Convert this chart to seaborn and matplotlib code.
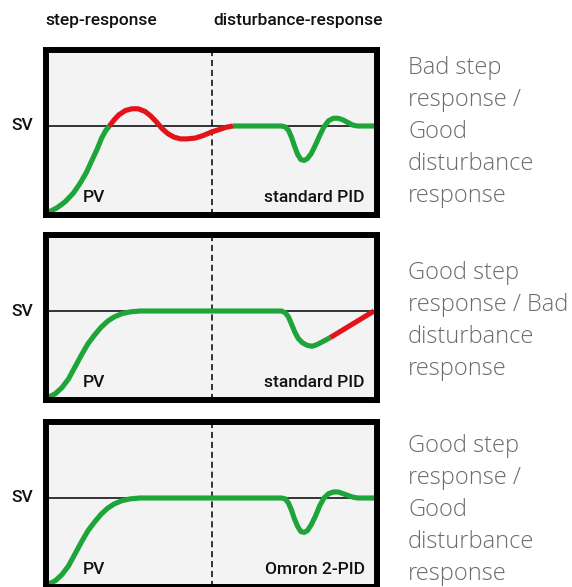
import pandas as pd
import matplotlib
matplotlib.use('Agg')
import matplotlib.pyplot as plt
import seaborn as sns
from matplotlib import font_manager

sns.set_style('white')

# Labels
top_labels = ['step-response', 'disturbance-response']
tuning_names = ['standard PID', 'standard PID', 'Omron 2-PID']
verdicts = [
    ['Bad step', 'response /', 'Good', 'disturbance', 'response'],
    ['Good step', 'response / Bad', 'disturbance', 'response'],
    ['Good step', 'response /', 'Good', 'disturbance', 'response'],
]

# PV traces: x runs 0..10 (disturbance half starts at 5), SV = 1
p1_rise_x = [0.00, 0.25, 0.50, 0.75, 0.95, 1.15, 1.32, 1.48, 1.62, 1.75, 1.86]
p1_rise_y = [0.00, 0.05, 0.12, 0.22, 0.33, 0.46, 0.60, 0.73, 0.86, 0.95, 1.00]
p1_over_x = [1.86, 2.00, 2.15, 2.35, 2.55, 2.75, 2.95, 3.12, 3.30, 3.48, 3.66, 3.85,
             4.05, 4.25, 4.50, 4.75, 5.00, 5.25, 5.45, 5.66]
p1_over_y = [1.00, 1.07, 1.13, 1.18, 1.20, 1.20, 1.17, 1.12, 1.05, 0.97, 0.91, 0.87,
             0.85, 0.85, 0.86, 0.89, 0.93, 0.96, 0.985, 1.00]
p1_dist_x = [5.66, 7.15, 7.27, 7.37, 7.46, 7.55, 7.65, 7.75, 7.85, 7.95, 8.07, 8.20,
             8.33, 8.46, 8.60, 8.75, 8.90, 9.05, 9.20, 9.35, 9.50, 10.00]
p1_dist_y = [1.00, 1.00, 0.99, 0.95, 0.87, 0.77, 0.67, 0.61, 0.60, 0.62, 0.68, 0.78,
             0.89, 0.99, 1.06, 1.09, 1.09, 1.07, 1.04, 1.01, 1.00, 1.00]

p2_good_x = [0.00, 0.20, 0.40, 0.60, 0.80, 1.00, 1.20, 1.40, 1.60, 1.80, 2.00, 2.25,
             2.50, 2.80, 7.15, 7.27, 7.37, 7.47, 7.57, 7.67, 7.80, 7.95, 8.10, 8.25,
             8.45, 8.65]
p2_good_y = [0.00, 0.04, 0.11, 0.21, 0.35, 0.49, 0.62, 0.72, 0.81, 0.88, 0.93, 0.97,
             0.99, 1.00, 1.00, 0.98, 0.93, 0.84, 0.75, 0.68, 0.63, 0.60, 0.59, 0.61,
             0.65, 0.69]
p2_bad_x = [8.65, 10.00]
p2_bad_y = [0.69, 1.00]

p3_good_x = [0.00, 0.20, 0.40, 0.60, 0.80, 1.00, 1.20, 1.40, 1.60, 1.80, 2.00, 2.25,
             2.50, 2.80, 7.15, 7.27, 7.37, 7.46, 7.55, 7.65, 7.75, 7.85, 7.95, 8.07,
             8.20, 8.33, 8.46, 8.60, 8.75, 8.90, 9.05, 9.20, 9.35, 9.50, 10.00]
p3_good_y = [0.00, 0.04, 0.11, 0.21, 0.35, 0.49, 0.62, 0.72, 0.81, 0.88, 0.93, 0.97,
             0.99, 1.00, 1.00, 0.99, 0.94, 0.86, 0.76, 0.67, 0.61, 0.60, 0.62, 0.69,
             0.79, 0.91, 1.00, 1.05, 1.07, 1.07, 1.05, 1.03, 1.01, 1.00, 1.00]

segments = [
    [('good', p1_rise_x, p1_rise_y), ('bad', p1_over_x, p1_over_y), ('good', p1_dist_x, p1_dist_y)],
    [('good', p2_good_x, p2_good_y), ('bad', p2_bad_x, p2_bad_y)],
    [('good', p3_good_x, p3_good_y)],
]

rows = []
for p, segs in enumerate(segments):
    for s, (state, xs, ys) in enumerate(segs):
        for x, y in zip(xs, ys):
            rows.append({'panel': p, 'seg': s, 'state': state, 'x': x, 'y': y})
df = pd.DataFrame(rows)

palette = {'good': '#1ea53a', 'bad': '#e3131b'}

names = {f.name for f in font_manager.fontManager.ttflist}
label_font = 'Roboto' if 'Roboto' in names else 'DejaVu Sans'
light = 'Open Sans' if 'Open Sans' in names else 'DejaVu Sans'
lbl = dict(fontsize=12.5, family=label_font, weight='medium', color='#111111')

W, H = 572, 587
fig = plt.figure(figsize=(W / 100, H / 100), dpi=100)

boxes = [(47, 218), (232, 403), (419, 590)]   # outer border top/bottom in px
px_x = 32.5   # px per x unit
px_y = 86     # px per y unit

for i, (top, bot) in enumerate(boxes):
    ax = fig.add_axes([46 / W, 1 - (bot - 3) / H, 331 / W, (bot - top - 6) / H])
    ax.set_facecolor('#f3f3f3')
    ax.axhline(1, color='black', lw=1.1, zorder=1)
    ax.axvline(5, color='black', lw=1.1, ls=(0, (4, 2.5)), zorder=1)
    sns.lineplot(data=df[df.panel == i], x='x', y='y', hue='state', units='seg',
                 estimator=None, sort=False, palette=palette, lw=3.7, legend=False,
                 ax=ax, solid_capstyle='butt', solid_joinstyle='round', zorder=2)
    inner_h = bot - top - 12
    ax.set_xlim(-3 / px_x, 10 + 3 / px_x)
    ax.set_ylim(-3 / px_y, (inner_h + 3) / px_y)
    ax.set_xticks([])
    ax.set_yticks([])
    ax.set_xlabel('')
    ax.set_ylabel('')
    for sp in ax.spines.values():
        sp.set_visible(True)
        sp.set_color('black')
        sp.set_linewidth(4.3)

    ax.text(-27 / px_x, 1, 'SV', ha='center', va='center', clip_on=False, **lbl)
    ax.text(34 / px_x, 10 / px_y, 'PV', ha='left', va='baseline', **lbl)
    ax.text(316 / px_x, 10 / px_y, tuning_names[i], ha='right', va='baseline', **lbl)

fig.text(45 / W, 1 - 25 / H, top_labels[0], ha='left', va='baseline', **lbl)
fig.text(213 / W, 1 - 25 / H, top_labels[1], ha='left', va='baseline', **lbl)

first_lines = [67, 272, 445]
for block, y0 in zip(verdicts, first_lines):
    for k, line in enumerate(block):
        fig.text(408 / W, 1 - (y0 + 7 + 32 * k) / H, line, ha='left', va='baseline',
                 fontsize=17, family=light, weight='light', color='#6b6b6b')

fig.savefig('out.png', dpi=100)
